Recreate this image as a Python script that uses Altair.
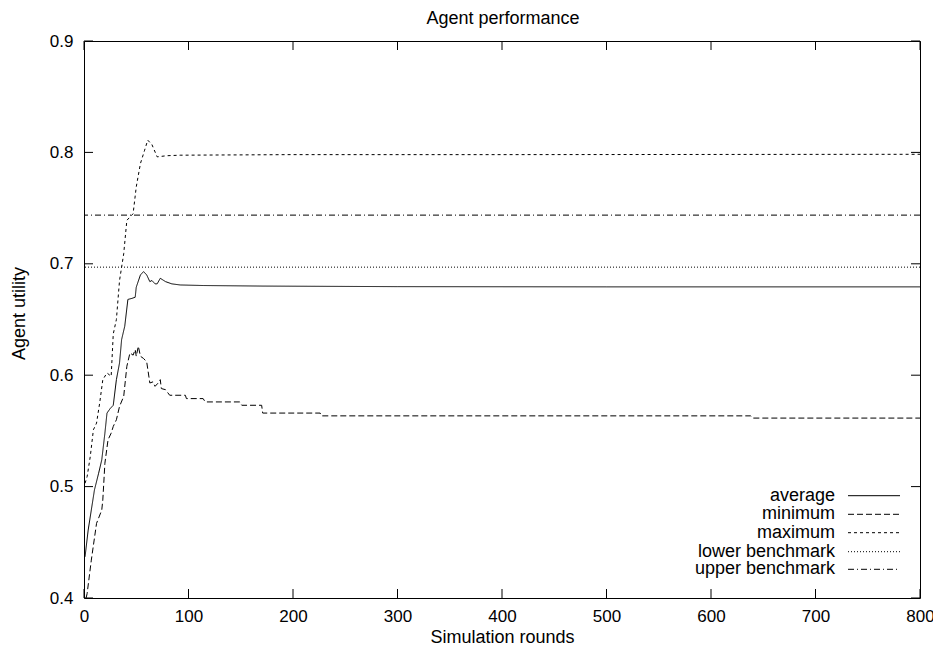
import altair as alt
import pandas as pd

# ---------------- data ----------------
avg_rounds = [1, 4, 7, 10, 14, 17, 20, 22, 25, 28, 31, 34, 36, 39, 42, 46, 49, 50, 54, 57,
              60, 63, 65, 68, 70, 73, 78, 84, 92, 114, 171, 300, 500, 800]
avg_vals = [0.437, 0.461, 0.479, 0.497, 0.512, 0.524, 0.548, 0.566, 0.570, 0.573,
            0.596, 0.611, 0.632, 0.644, 0.668, 0.669, 0.670, 0.679, 0.690, 0.693,
            0.690, 0.684, 0.685, 0.682, 0.682, 0.687, 0.684, 0.682, 0.681, 0.6805,
            0.680, 0.6795, 0.6793, 0.6793]

min_rounds = [2, 3, 7, 12, 17, 18, 20, 23, 26, 28, 31, 34, 38, 41, 44, 47, 49, 50, 52, 54,
              57, 60, 63, 66, 68, 71, 73, 74, 78, 82, 97, 98, 114, 116, 149, 151, 170, 171,
              226, 227, 638, 640, 800]
min_vals = [0.400, 0.404, 0.434, 0.467, 0.479, 0.488, 0.521, 0.542, 0.548, 0.554,
            0.560, 0.572, 0.581, 0.608, 0.620, 0.618, 0.623, 0.617, 0.626, 0.617,
            0.615, 0.612, 0.593, 0.594, 0.590, 0.593, 0.596, 0.588, 0.587, 0.582,
            0.582, 0.579, 0.579, 0.576, 0.576, 0.573, 0.573, 0.566, 0.566, 0.5635,
            0.5635, 0.5615, 0.5615]

max_rounds = [1, 3, 6, 9, 12, 15, 18, 22, 26, 28, 31, 34, 38, 41, 44, 47, 50, 54, 58, 61,
              65, 70, 79, 92, 200, 400, 800]
max_vals = [0.503, 0.509, 0.527, 0.551, 0.557, 0.575, 0.596, 0.602, 0.599, 0.637,
            0.650, 0.685, 0.709, 0.739, 0.742, 0.745, 0.769, 0.790, 0.802, 0.811,
            0.807, 0.796, 0.797, 0.7975, 0.798, 0.798, 0.7983]

lower_benchmark = 0.697
upper_benchmark = 0.7437

series_names = ["average", "minimum", "maximum", "lower benchmark", "upper benchmark"]
chart_title = ["Agent performance"]

x_tick_values = [0, 100, 200, 300, 400, 500, 600, 700, 800]
y_tick_values = [0.4, 0.5, 0.6, 0.7, 0.8, 0.9]

# ---------------- styles / layout ----------------
FONT = "Liberation Sans"
FS = 18
LFS = 17
W, H = 836, 557
TICK = 9
dashes = {
    "average": [1, 0],
    "minimum": [6, 3],
    "maximum": [3, 3],
    "lower benchmark": [1, 2],
    "upper benchmark": [6, 3, 1, 3],
}
legend_row_y = [454.7, 473.3, 491.7, 510.7, 528.3]
legend_text_x = 751
legend_line_x = (764, 816)
title_pos = (W / 2 + 1, -17)

x_scale = alt.Scale(domain=[0, 800], nice=False, zero=False)
y_scale = alt.Scale(domain=[0.4, 0.9], nice=False, zero=False)

axis_text = dict(labelFont=FONT, labelFontSize=LFS, labelColor="black",
                 titleFont=FONT, titleFontSize=FS, titleColor="black",
                 titleFontWeight="normal")

x_enc = alt.X(
    "round:Q", scale=x_scale,
    axis=alt.Axis(values=x_tick_values, format="d", ticks=False, tickSize=0, domain=False,
                  grid=False, labelPadding=10, title="Simulation rounds",
                  titleX=W / 2, titleY=44, titleBaseline="alphabetic",
                  labelFlush=False, **axis_text),
)
y_enc = alt.Y(
    "utility:Q", scale=y_scale,
    axis=alt.Axis(values=y_tick_values, format=".1f", ticks=False, tickSize=0, domain=False,
                  grid=False, labelPadding=11, title="Agent utility",
                  titleX=-60, titleY=272, titleBaseline="alphabetic",
                  labelFlush=False, **axis_text),
)

def series_df(rounds, vals):
    return pd.DataFrame({"round": rounds, "utility": vals})

def line_layer(df, name):
    return alt.Chart(df).mark_line(color="black", strokeWidth=1, strokeDash=dashes[name],
                                   clip=True).encode(x=x_enc, y=y_enc)

avg_layer = line_layer(series_df(avg_rounds, avg_vals), "average")
min_layer = line_layer(series_df(min_rounds, min_vals), "minimum")
max_layer = line_layer(series_df(max_rounds, max_vals), "maximum")

lower_layer = alt.Chart(pd.DataFrame({"utility": [lower_benchmark]})).mark_rule(
    color="black", strokeWidth=1, strokeDash=dashes["lower benchmark"]).encode(y=y_enc)
upper_layer = alt.Chart(pd.DataFrame({"utility": [upper_benchmark]})).mark_rule(
    color="black", strokeWidth=1, strokeDash=dashes["upper benchmark"]).encode(y=y_enc)

# gnuplot-style inward, mirrored ticks
xt = pd.DataFrame({"round": x_tick_values})
yt = pd.DataFrame({"utility": y_tick_values})
tick_style = dict(color="black", strokeWidth=1)
ticks = [
    alt.Chart(xt).mark_rule(**tick_style).encode(x=x_enc, y=alt.value(H), y2=alt.value(H - TICK)),
    alt.Chart(xt).mark_rule(**tick_style).encode(x=x_enc, y=alt.value(0), y2=alt.value(TICK)),
    alt.Chart(yt).mark_rule(**tick_style).encode(y=y_enc, x=alt.value(0), x2=alt.value(TICK)),
    alt.Chart(yt).mark_rule(**tick_style).encode(y=y_enc, x=alt.value(W), x2=alt.value(W - TICK)),
]

# legend (gnuplot style: label right-aligned, sample to the right)
legend_layers = []
for name, ry in zip(series_names, legend_row_y):
    ldf = pd.DataFrame({"label": [name]})
    legend_layers.append(
        alt.Chart(ldf).mark_text(align="right", baseline="middle", font=FONT, fontSize=FS,
                                 color="black").encode(
            text="label:N", x=alt.value(legend_text_x), y=alt.value(ry)))
    legend_layers.append(
        alt.Chart(ldf).mark_rule(color="black", strokeWidth=1, strokeDash=dashes[name]).encode(
            x=alt.value(legend_line_x[0]), x2=alt.value(legend_line_x[1]), y=alt.value(ry)))

title_layer = alt.Chart(pd.DataFrame({"label": chart_title})).mark_text(
    align="center", baseline="alphabetic", font=FONT, fontSize=FS, color="black"
).encode(text="label:N", x=alt.value(title_pos[0]), y=alt.value(title_pos[1]))

chart = alt.layer(
    lower_layer, upper_layer, min_layer, max_layer, avg_layer, *ticks, *legend_layers,
    title_layer
).properties(
    width=W, height=H,
    background="white",
    autosize=alt.AutoSizeParams(type="none"),
    padding={"left": 76, "top": 33, "right": 13, "bottom": 47},
).configure_view(
    stroke="black", strokeWidth=1
)

chart.save("out.html", embed_options={"renderer": "svg", "actions": False})
